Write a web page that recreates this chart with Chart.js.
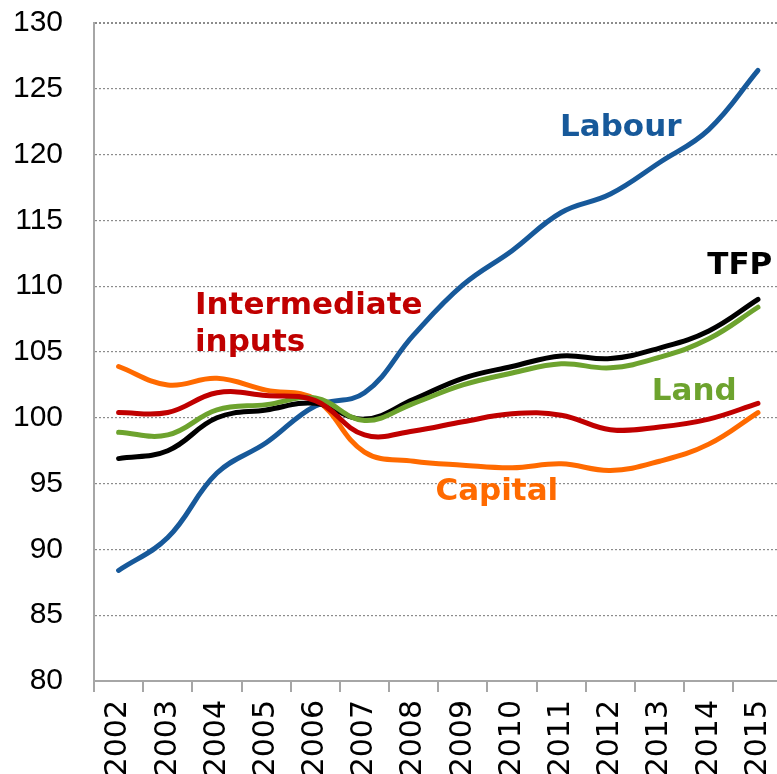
<!DOCTYPE html>
<html>
<head>
<meta charset="utf-8">
<script src="https://cdn.jsdelivr.net/npm/chart.js@4.4.1/dist/chart.umd.min.js"></script>
<style>
  html, body { margin: 0; padding: 0; background: #fff; overflow: hidden; }
  #wrap { position: relative; width: 777px; height: 774px; overflow: hidden; }
  canvas { display: block; position: absolute; left: 0; top: -26px; }
</style>
</head>
<body>
<div id="wrap"><canvas id="c" width="802" height="800" style="width:802px;height:800px"></canvas></div>
<script>
const years = ['2002','2003','2004','2005','2006','2007','2008','2009','2010','2011','2012','2013','2014','2015'];
const labour = [88.4, 90.9, 95.8, 98.1, 100.9, 101.9, 106.3, 110.1, 112.7, 115.6, 117.0, 119.4, 121.9, 126.4];
const tfp = [96.9, 97.5, 100.0, 100.6, 101.1, 99.9, 101.4, 103.0, 103.9, 104.7, 104.5, 105.3, 106.6, 109.0];
const land = [98.9, 98.7, 100.6, 101.0, 101.5, 99.8, 101.1, 102.5, 103.4, 104.1, 103.8, 104.6, 106.0, 108.4];
const intermediate = [100.4, 100.4, 101.9, 101.7, 101.3, 98.7, 99.0, 99.7, 100.3, 100.2, 99.1, 99.3, 99.9, 101.1];
const capital = [103.9, 102.5, 103.0, 102.1, 101.4, 97.4, 96.7, 96.4, 96.2, 96.5, 96.0, 96.7, 98.0, 100.4];
const yTicks = [80, 85, 90, 95, 100, 105, 110, 115, 120, 125, 130];

const colors = { labour: '#17599A', tfp: '#000000', land: '#6DA32E', inter: '#C00000', capital: '#FF6A00' };

// series labels placed in data space (category index, value)
const seriesLabels = [
  { lines: ['Labour'], at: [10.21, 121.4], color: colors.labour, align: 'center' },
  { lines: ['TFP'], at: [12.63, 110.95], color: colors.tfp, align: 'center' },
  { lines: ['Intermediate', 'inputs'], at: [1.553, 107.92], color: colors.inter, align: 'left' },
  { lines: ['Land'], at: [11.705, 101.32], color: colors.land, align: 'center' },
  { lines: ['Capital'], at: [7.69, 93.73], color: colors.capital, align: 'center' }
];

const labelPlugin = {
  id: 'seriesLabels',
  afterDatasetsDraw(chart) {
    const { ctx, scales: { x, y } } = chart;
    ctx.save();
    ctx.font = 'bold 31px "DejaVu Sans", Verdana, sans-serif';
    ctx.textBaseline = 'alphabetic';
    seriesLabels.forEach(l => {
      ctx.fillStyle = l.color;
      ctx.textAlign = l.align;
      const px = x.getPixelForValue(l.at[0]);
      const py = y.getPixelForValue(l.at[1]);
      l.lines.forEach((t, i) => ctx.fillText(t, px, py + i * 37));
    });
    ctx.restore();
  }
};

const ds = (data, color) => ({
  data, borderColor: color, backgroundColor: color, borderWidth: 5,
  pointRadius: 0, pointHoverRadius: 0, tension: 0.4, fill: false,
  borderCapStyle: 'round', borderJoinStyle: 'round'
});

new Chart(document.getElementById('c'), {
  type: 'line',
  data: {
    labels: years,
    datasets: [
      ds(intermediate, colors.inter),
      ds(land, colors.land),
      ds(tfp, colors.tfp),
      ds(capital, colors.capital),
      ds(labour, colors.labour)
    ]
  },
  options: {
    responsive: false,
    animation: false,
    devicePixelRatio: 1,
    layout: { padding: { top: 22, right: 1, left: 0, bottom: 0 } },
    plugins: { legend: { display: false }, tooltip: { enabled: false }, title: { display: false } },
    scales: {
      x: {
        offset: true,
        grid: { display: true, offset: true, drawOnChartArea: false, drawTicks: true, tickLength: 11, color: '#A6A6A6', lineWidth: 2 },
        border: { display: true, color: '#A6A6A6', width: 2 },
        ticks: {
          minRotation: 90, maxRotation: 90, autoSkip: false, padding: 8,
          color: '#000', font: { family: '"DejaVu Sans", Verdana, sans-serif', size: 30 }
        },
        afterFit(scale) { scale.height = 93; }
      },
      y: {
        min: 80, max: 130,
        afterBuildTicks(scale) { scale.ticks = yTicks.map(v => ({ value: v })); },
        grid: {
          color: '#8C8C8C', drawTicks: false,
          lineWidth: (c) => (c.tick && c.tick.value === 130 ? 2 : 1.2)
        },
        border: { display: true, color: '#A6A6A6', width: 2, dash: [2, 2] },
        ticks: {
          padding: 31, color: '#000',
          font: { family: '"Liberation Sans", Arial, sans-serif', size: 30 }
        },
        afterFit(scale) { scale.width = 94; }
      }
    }
  },
  plugins: [labelPlugin]
});
</script>
</body>
</html>
